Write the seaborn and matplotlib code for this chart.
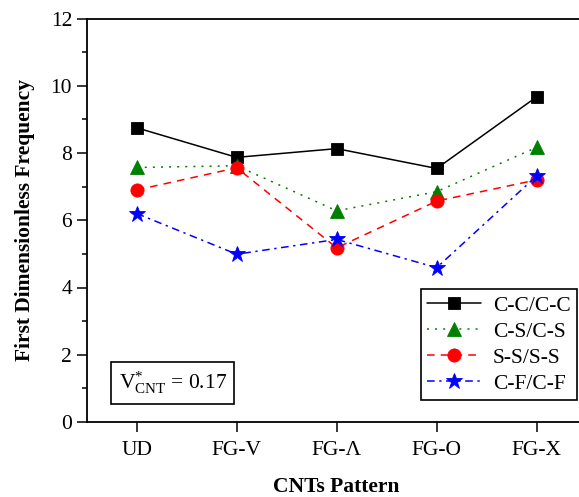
import matplotlib
matplotlib.use("Agg")
import matplotlib.pyplot as plt
import numpy as np
import pandas as pd
import seaborn as sns
from matplotlib.ticker import MultipleLocator

# data
patterns = ["UD", "FG-V", "FG-\u039b", "FG-O", "FG-X"]
cc_cc = [8.75, 7.87, 8.13, 7.54, 9.67]
cs_cs = [7.57, 7.62, 6.28, 6.85, 8.17]
ss_ss = [6.90, 7.56, 5.18, 6.57, 7.20]
cf_cf = [6.20, 4.99, 5.43, 4.59, 7.32]
series_names = ["C-C/C-C", "C-S/C-S", "S-S/S-S", "C-F/C-F"]

sns.set_theme(style="ticks")
plt.rcParams["font.family"] = ["Liberation Serif", "DejaVu Serif"]
plt.rcParams["mathtext.fontset"] = "stix"
for key in ["text.color", "axes.labelcolor", "xtick.color", "ytick.color",
            "axes.edgecolor"]:
    plt.rcParams[key] = "black"

styles = {
    "C-C/C-C": dict(color="black", marker="s", ms=9, ls="-"),
    "C-S/C-S": dict(color="#008000", marker="^", ms=10, ls=(0, (1.3, 4))),
    "S-S/S-S": dict(color="#ff0000", marker="o", ms=9.5, ls=(0, (5, 4))),
    "C-F/C-F": dict(color="#0000ff", marker="*", ms=12, ls=(0, (5, 3, 1.5, 3))),
}

x_pos = np.arange(len(patterns))
df = pd.DataFrame({"x": x_pos, "C-C/C-C": cc_cc, "C-S/C-S": cs_cs,
                   "S-S/S-S": ss_ss, "C-F/C-F": cf_cf})

fig = plt.figure(figsize=(5.79, 4.97), dpi=100)
ax = fig.add_axes([86.7 / 579, 75 / 497, 500 / 579, 403.5 / 497])

for name in series_names:
    st = styles[name]
    sns.lineplot(data=df, x="x", y=name, ax=ax, color=st["color"],
                 marker=st["marker"], markersize=st["ms"], linestyle=st["ls"],
                 linewidth=1.1, markeredgewidth=0.6, markeredgecolor=st["color"],
                 label=name)

ax.set_xlim(-0.5, 4.5)
ax.set_ylim(0, 12)
ax.set_xticks(x_pos)
ax.set_xticklabels(patterns)
ax.yaxis.set_major_locator(MultipleLocator(2))
ax.yaxis.set_minor_locator(MultipleLocator(1))
ax.tick_params(axis="both", which="major", labelsize=15.5, length=7,
               width=1.1, direction="out", color="black", labelcolor="black")
ax.tick_params(axis="x", pad=7)
ax.tick_params(axis="y", which="minor", length=3.5, width=1.1, color="black")
for sp in ax.spines.values():
    sp.set_linewidth(1.3)
    sp.set_color("black")

ax.set_xlabel("CNTs Pattern", fontsize=15.5, fontweight="bold", labelpad=12,
              color="black")
ax.set_ylabel("First Dimensionless Frequency", fontsize=15.5,
              fontweight="bold", labelpad=11, color="black")

ax.text(0.36, 1.16, r"$\mathregular{V^{*}_{CNT}}$ = 0.17", fontsize=15.5,
        ha="center", va="center", color="black",
        bbox=dict(boxstyle="square,pad=0.35", fc="white", ec="black", lw=1.2))

leg = ax.legend(loc="upper left", bbox_to_anchor=(421 / 579, 1 - 289 / 497),
                bbox_transform=fig.transFigure, borderaxespad=0,
                fontsize=15.5, frameon=True, fancybox=False, framealpha=1,
                edgecolor="black", handlelength=2.5, handletextpad=0.55,
                labelspacing=0.28, borderpad=0.3)
leg.get_frame().set_linewidth(1.2)
for t in leg.get_texts():
    t.set_color("black")

fig.savefig("out.png", dpi=100)
